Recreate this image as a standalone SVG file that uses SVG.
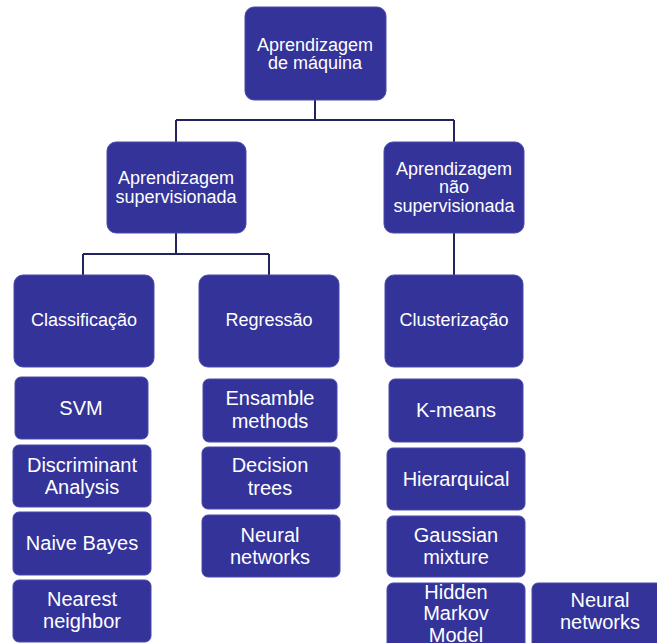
<svg xmlns="http://www.w3.org/2000/svg" width="657" height="643" viewBox="0 0 657 643">
  <style>
    .box { fill: #333399; stroke: #4b4bab; stroke-width: 1; }
    .hd { font-family: "Liberation Sans", Arial, sans-serif; font-size: 18px; fill: #ffffff; text-anchor: middle; }
    .lf { font-family: "Liberation Sans", Arial, sans-serif; font-size: 20px; fill: #ffffff; text-anchor: middle; }
    .conn { fill: none; stroke: #23235e; stroke-width: 2; }
  </style>
  <rect width="657" height="643" fill="#ffffff"/>

  <!-- connectors -->
  <g id="connectors" class="conn">
    <path d="M315,100 V120 M176,120 H454 M176,120 V142 M454,120 V142"/>
    <path d="M176,233 V254 M83,254 H269 M83,254 V275 M269,254 V275"/>
    <path d="M454,233 V275"/>
  </g>

  <!-- root -->
  <g id="root">
    <rect class="box" x="245" y="7" width="141" height="93" rx="9"/>
    <text class="hd" x="315" y="51">Aprendizagem</text>
    <text class="hd" x="315" y="69">de máquina</text>
  </g>

  <!-- second level -->
  <g id="supervised">
    <rect class="box" x="107" y="142" width="139" height="91" rx="9"/>
    <text class="hd" x="176" y="184">Aprendizagem</text>
    <text class="hd" x="176" y="203">supervisionada</text>
  </g>
  <g id="unsupervised">
    <rect class="box" x="384" y="142" width="140" height="91" rx="9"/>
    <text class="hd" x="454" y="175">Aprendizagem</text>
    <text class="hd" x="454" y="193">não</text>
    <text class="hd" x="454" y="212">supervisionada</text>
  </g>

  <!-- third level -->
  <g id="classification">
    <rect class="box" x="14" y="275" width="140" height="92" rx="9"/>
    <text class="hd" x="84" y="326">Classificação</text>
  </g>
  <g id="regression">
    <rect class="box" x="199" y="275" width="140" height="92" rx="9"/>
    <text class="hd" x="269" y="326">Regressão</text>
  </g>
  <g id="clustering">
    <rect class="box" x="385" y="275" width="138" height="92" rx="9"/>
    <text class="hd" x="454" y="326">Clusterização</text>
  </g>

  <!-- classification methods -->
  <g id="svm">
    <rect class="box" x="15" y="377" width="133" height="62" rx="6"/>
    <text class="lf" x="81" y="415">SVM</text>
  </g>
  <g id="discriminant">
    <rect class="box" x="13" y="445" width="138" height="62" rx="6"/>
    <text class="lf" x="82" y="472">Discriminant</text>
    <text class="lf" x="82" y="494">Analysis</text>
  </g>
  <g id="naive-bayes">
    <rect class="box" x="13" y="512" width="138" height="63" rx="6"/>
    <text class="lf" x="82" y="550">Naive Bayes</text>
  </g>
  <g id="nearest">
    <rect class="box" x="13" y="580" width="138" height="62" rx="6"/>
    <text class="lf" x="82" y="606">Nearest</text>
    <text class="lf" x="82" y="628">neighbor</text>
  </g>

  <!-- regression methods -->
  <g id="ensamble">
    <rect class="box" x="203" y="379" width="134" height="63" rx="6"/>
    <text class="lf" x="270" y="405">Ensamble</text>
    <text class="lf" x="270" y="428">methods</text>
  </g>
  <g id="decision-trees">
    <rect class="box" x="202" y="447" width="138" height="62" rx="6"/>
    <text class="lf" x="270" y="472">Decision</text>
    <text class="lf" x="270" y="495">trees</text>
  </g>
  <g id="neural-reg">
    <rect class="box" x="202" y="515" width="138" height="62" rx="6"/>
    <text class="lf" x="270" y="542">Neural</text>
    <text class="lf" x="270" y="564">networks</text>
  </g>

  <!-- clustering methods -->
  <g id="kmeans">
    <rect class="box" x="389" y="379" width="134" height="63" rx="6"/>
    <text class="lf" x="456" y="417">K-means</text>
  </g>
  <g id="hierarquical">
    <rect class="box" x="387" y="448" width="138" height="62" rx="6"/>
    <text class="lf" x="456" y="486">Hierarquical</text>
  </g>
  <g id="gaussian">
    <rect class="box" x="387" y="516" width="138" height="61" rx="6"/>
    <text class="lf" x="456" y="542">Gaussian</text>
    <text class="lf" x="456" y="564">mixture</text>
  </g>
  <g id="hmm">
    <rect class="box" x="387" y="583" width="138" height="70" rx="6"/>
    <text class="lf" x="456" y="599">Hidden</text>
    <text class="lf" x="456" y="620">Markov</text>
    <text class="lf" x="456" y="642">Model</text>
  </g>
  <g id="neural-clu">
    <rect class="box" x="532" y="583" width="135" height="70" rx="6"/>
    <text class="lf" x="600" y="607">Neural</text>
    <text class="lf" x="600" y="629">networks</text>
  </g>
</svg>
